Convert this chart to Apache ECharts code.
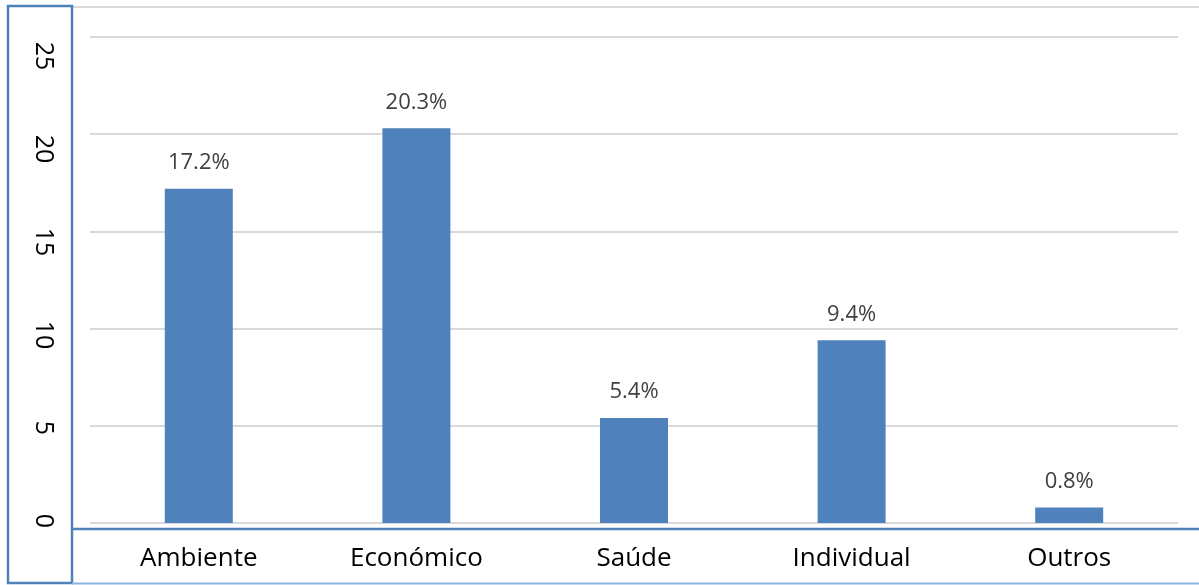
<!DOCTYPE html>
<html><head><meta charset="utf-8">
<script src="https://cdn.jsdelivr.net/npm/echarts@6/dist/echarts.min.js"></script>
<style>html,body{margin:0;padding:0;background:#fff}#c{width:1199px;height:585px}</style>
</head><body><div id="c"></div>
<script>
var categories = ['Ambiente', 'Económico', 'Saúde', 'Individual', 'Outros'];
var values = [17.2, 20.3, 5.4, 9.4, 0.8];
var yTicks = [0, 5, 10, 15, 20, 25];

var chart = echarts.init(document.getElementById('c'));
var font = "'Open Sans', 'Liberation Sans', sans-serif";
chart.setOption({
  animation: false,
  grid: [
    {left: 90, right: 21, top: 37, bottom: 62},
    {left: 90, right: 21, top: 56, bottom: 64}
  ],
  xAxis: [{
    type: 'category', data: categories, gridIndex: 0,
    axisLine: {show: false}, axisTick: {show: false},
    axisLabel: {color: '#000', fontSize: 26, fontFamily: font, margin: 23}
  }, {
    type: 'category', data: categories, gridIndex: 1, show: false
  }],
  yAxis: [{
    type: 'value', gridIndex: 0, min: yTicks[0], max: yTicks[yTicks.length - 1], interval: 5,
    axisLine: {show: false}, axisTick: {show: false},
    splitLine: {lineStyle: {color: '#d9d9d9', width: 2}},
    axisLabel: {show: false}
  }, {
    type: 'value', gridIndex: 1, min: yTicks[0], max: yTicks[yTicks.length - 1], interval: 5,
    axisLine: {show: false}, axisTick: {show: false}, splitLine: {show: false},
    axisLabel: {color: '#000', fontSize: 25, fontFamily: font, rotate: -90, margin: 47,
      align: 'center', verticalAlign: 'middle'}
  }],
  series: [{
    type: 'bar', data: values, barWidth: 68, xAxisIndex: 0, yAxisIndex: 0,
    itemStyle: {color: '#4f81bd'},
    label: {show: true, position: 'top', distance: 15, color: '#404040', fontSize: 22, fontFamily: font,
      formatter: function (p) { return p.value.toFixed(1) + '%'; }}
  }],
  graphic: [
    {type: 'line', shape: {x1: 72, y1: 7, x2: 1199, y2: 7}, style: {stroke: '#d9d9d9', lineWidth: 2}},
    {type: 'rect', shape: {x: 8, y: 6, width: 64, height: 577}, style: {fill: 'none', stroke: '#4f81bd', lineWidth: 2.5}},
    {type: 'line', shape: {x1: 72, y1: 529, x2: 1199, y2: 529}, style: {stroke: '#4f81bd', lineWidth: 2.5}},
    {type: 'line', shape: {x1: 72, y1: 583.5, x2: 1199, y2: 583.5}, style: {stroke: '#8db3e2', lineWidth: 2}}
  ]
});
</script></body></html>
